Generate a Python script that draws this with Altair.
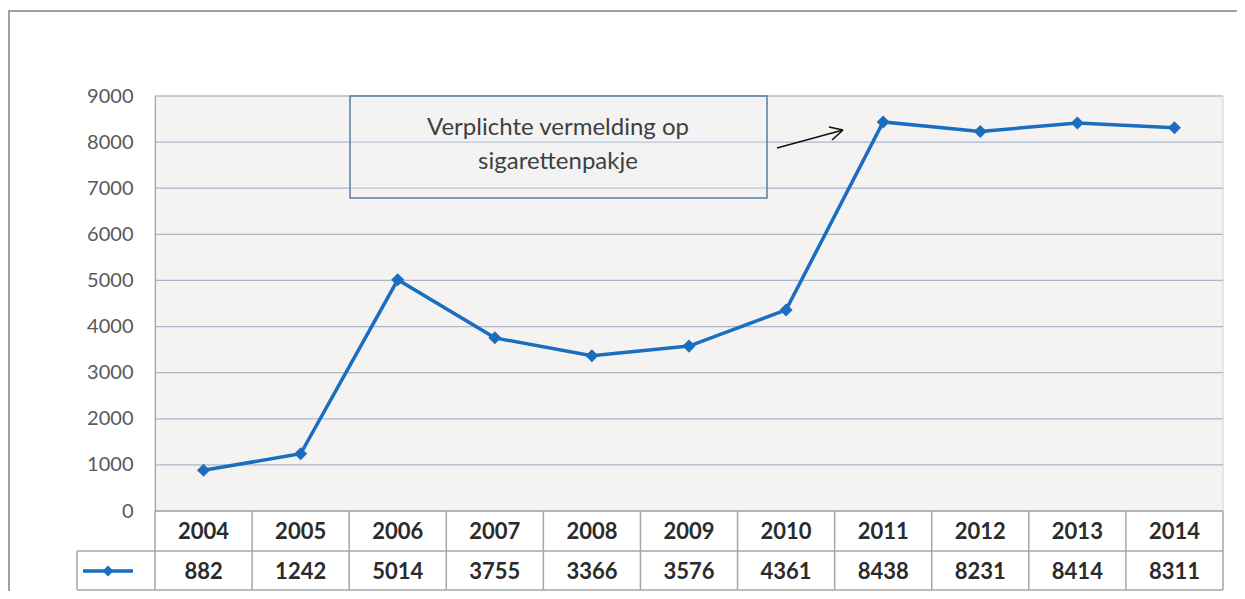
import altair as alt
import pandas as pd

years = ["2004", "2005", "2006", "2007", "2008", "2009", "2010", "2011", "2012", "2013", "2014"]
values = [882, 1242, 5014, 3755, 3366, 3576, 4361, 8438, 8231, 8414, 8311]
y_ticks = [0, 1000, 2000, 3000, 4000, 5000, 6000, 7000, 8000, 9000]
note_lines = ["Verplichte vermelding op", "sigarettenpakje"]

df = pd.DataFrame({"year": years, "value": values})
df["label"] = df["value"].astype(str)

W, H_PLOT, H_TOTAL = 1068, 415, 495
ROW = 40
FONT = "Lato"
BLUE = "#1a6ec0"
GRID = "#a9b6cc"
CELL = "#a6a6a6"

xs = alt.Scale(domain=years, type="band", paddingInner=0, paddingOuter=0)
ys = alt.Scale(domain=[0, 9000], range=[H_PLOT, 0], nice=False, zero=True)

one = df.iloc[[0]]

# outer chart-area border
outer = alt.Chart(one).mark_rect(fill="white", stroke="#a0a0a0", strokeWidth=2).encode(
    x=alt.value(-146), x2=alt.value(1150), y=alt.value(-85), y2=alt.value(560)
)

# plot background
bg = alt.Chart(one).mark_rect(fill="#f5f3f1", stroke="#d0d0d0", strokeWidth=1).encode(
    x=alt.value(0), x2=alt.value(W), y=alt.value(0), y2=alt.value(H_PLOT)
)

grid_df = pd.DataFrame({"v": y_ticks[1:]})
grid = alt.Chart(grid_df).mark_rule(color=GRID, strokeWidth=1.2).encode(
    y=alt.Y("v:Q", scale=ys, axis=alt.Axis(
        values=y_ticks, format="d", grid=False, ticks=False, domain=True, domainColor="#a0a0a0",
        labelFont=FONT, labelFontSize=20, labelColor="#595959", labelPadding=22,
        title=None, labelFlush=False, zindex=1)),
    x=alt.value(0), x2=alt.value(W)
)

# annotation box and text
box = alt.Chart(one).mark_rect(fill="#eef4fb", fillOpacity=0.25, stroke="#5b7aa6", strokeWidth=1.5).encode(
    x=alt.value(195), x2=alt.value(612), y=alt.value(0), y2=alt.value(102)
)
note_df = pd.DataFrame({"t": note_lines})
note1 = alt.Chart(note_df.iloc[[0]]).mark_text(font=FONT, fontSize=24, color="#3f3f3f", align="center", baseline="middle").encode(
    text="t:N", x=alt.value(403), y=alt.value(32))
note2 = alt.Chart(note_df.iloc[[1]]).mark_text(font=FONT, fontSize=24, color="#3f3f3f", align="center", baseline="middle").encode(
    text="t:N", x=alt.value(403), y=alt.value(66))

# arrow
arrow_shaft = alt.Chart(one).mark_rule(color="#111111", strokeWidth=1.6).encode(
    x=alt.value(622), y=alt.value(52), x2=alt.value(688), y2=alt.value(34))
arrow_h1 = alt.Chart(one).mark_rule(color="#111111", strokeWidth=1.6).encode(
    x=alt.value(688), y=alt.value(34), x2=alt.value(674), y2=alt.value(31))
arrow_h2 = alt.Chart(one).mark_rule(color="#111111", strokeWidth=1.6).encode(
    x=alt.value(688), y=alt.value(34), x2=alt.value(677), y2=alt.value(44))

# data line + markers
line = alt.Chart(df).mark_line(color=BLUE, strokeWidth=3.5).encode(
    x=alt.X("year:O", scale=xs, axis=None, bandPosition=0.5),
    y=alt.Y("value:Q", scale=ys),
)
pts = alt.Chart(df).mark_point(shape="diamond", filled=True, size=170, color=BLUE, opacity=1).encode(
    x=alt.X("year:O", scale=xs, axis=None, bandPosition=0.5),
    y=alt.Y("value:Q", scale=ys),
)

# data table
h_top = alt.Chart(one).mark_rule(color=CELL, strokeWidth=1.5).encode(
    x=alt.value(0), x2=alt.value(W), y=alt.value(H_PLOT))
h_mid = alt.Chart(one).mark_rule(color=CELL, strokeWidth=1.5).encode(
    x=alt.value(-78), x2=alt.value(W), y=alt.value(H_PLOT + ROW))
h_bot = alt.Chart(one).mark_rule(color=CELL, strokeWidth=1.5).encode(
    x=alt.value(-78), x2=alt.value(W), y=alt.value(H_PLOT + 2 * ROW - 1))
v_lines = alt.Chart(df).mark_rule(color=CELL, strokeWidth=1.5).encode(
    x=alt.X("year:O", scale=xs, axis=None, bandPosition=0),
    y=alt.value(H_PLOT), y2=alt.value(H_PLOT + 2 * ROW - 1))
v_right = alt.Chart(one).mark_rule(color=CELL, strokeWidth=1.5).encode(
    x=alt.value(W), y=alt.value(H_PLOT), y2=alt.value(H_PLOT + 2 * ROW - 1))
v_left = alt.Chart(one).mark_rule(color=CELL, strokeWidth=1.5).encode(
    x=alt.value(-78), y=alt.value(H_PLOT + ROW), y2=alt.value(H_PLOT + 2 * ROW - 1))

year_txt = alt.Chart(df).mark_text(font=FONT, fontSize=22, fontWeight="bold", color="#2b2b2b",
                                    baseline="middle", align="center").encode(
    x=alt.X("year:O", scale=xs, axis=None, bandPosition=0.5),
    y=alt.value(H_PLOT + ROW / 2 + 1), text="year:N")
val_txt = alt.Chart(df).mark_text(font=FONT, fontSize=22, fontWeight="bold", color="#2b2b2b",
                                   baseline="middle", align="center").encode(
    x=alt.X("year:O", scale=xs, axis=None, bandPosition=0.5),
    y=alt.value(H_PLOT + ROW * 1.5 + 1), text="label:N")

leg_line = alt.Chart(one).mark_rule(color=BLUE, strokeWidth=3.5).encode(
    x=alt.value(-72), x2=alt.value(-22), y=alt.value(H_PLOT + ROW * 1.5))
leg_pt = alt.Chart(one).mark_point(shape="diamond", filled=True, size=120, color=BLUE, opacity=1).encode(
    x=alt.value(-47), y=alt.value(H_PLOT + ROW * 1.5))

chart = alt.layer(
    outer, bg, grid, box, note1, note2, arrow_shaft, arrow_h1, arrow_h2,
    line, pts, h_top, h_mid, h_bot, v_lines, v_right, v_left,
    year_txt, val_txt, leg_line, leg_pt
).properties(
    width=W, height=H_TOTAL,
    autosize=alt.AutoSizeParams(type="none"),
    padding={"left": 147, "top": 88, "right": 14, "bottom": 0},
    background="white",
).configure_view(stroke=None)

chart.save("out.html", embed_options={"renderer": "svg", "actions": False})
